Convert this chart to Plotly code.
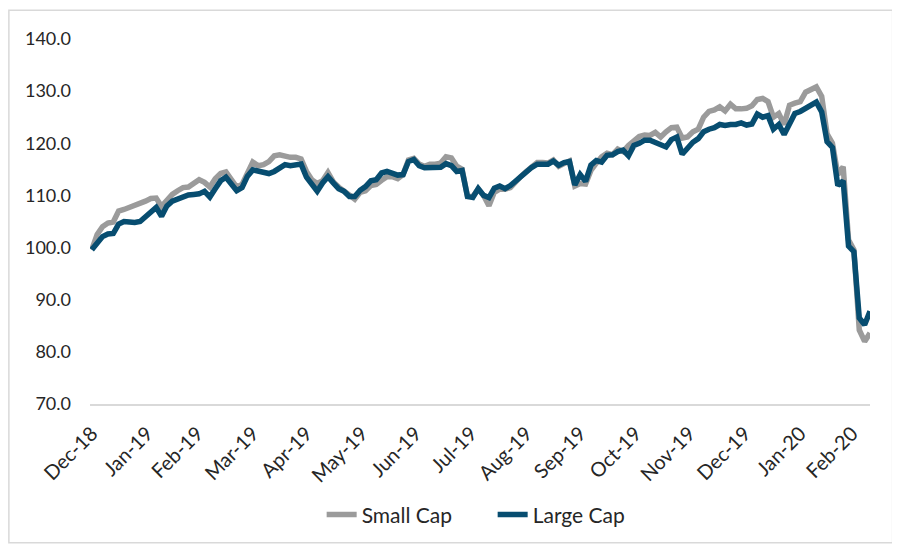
import pandas as pd
import plotly.graph_objects as go

# index levels (rebased to 100), sampled every 3 days from 31-Dec-2018
dates = pd.date_range("2018-12-31", periods=146, freq="3D")

small_cap = [
    99.6, 102.5, 104.0, 104.7, 104.9, 107.0, 107.3, 107.7, 108.1, 108.3,
    108.9, 109.4, 109.5, 107.9, 109.0, 110.2, 110.9, 111.5, 111.6, 112.4,
    113.0, 112.5, 111.6, 113.2, 114.2, 114.5, 113.0, 111.6, 112.1, 114.5,
    116.4, 115.7, 115.9, 116.5, 117.6, 117.8, 117.5, 117.3, 117.3, 117.0,
    114.6, 113.0, 112.3, 112.8, 114.4, 112.6, 111.6, 110.8, 109.9, 109.3,
    110.6, 110.9, 111.9, 112.1, 112.9, 113.6, 113.6, 113.2, 114.0, 116.8,
    117.1, 116.0, 115.6, 116.0, 116.0, 116.2, 117.4, 117.2, 115.6, 115.0,
    109.8, 109.8, 111.2, 110.0, 108.0, 110.6, 111.2, 111.2, 111.5, 112.7,
    113.7, 114.6, 115.3, 116.3, 116.3, 116.2, 116.8, 115.6, 116.1, 116.6,
    111.8, 112.3, 112.2, 114.8, 116.2, 117.4, 118.1, 117.8, 118.9, 118.4,
    119.6, 120.5, 121.3, 121.6, 121.5, 122.1, 121.2, 122.2, 123.0, 123.1,
    121.0, 121.2, 122.2, 122.7, 125.0, 126.1, 126.4, 127.0, 126.2, 127.5,
    126.6, 126.6, 126.7, 127.2, 128.4, 128.6, 128.0, 125.0, 125.7, 123.6,
    127.3, 127.7, 128.0, 129.8, 130.4, 130.8, 129.0, 121.8, 120.0, 114.0,
    115.5, 101.5, 99.6, 84.2, 82.0, 83.6,
]

large_cap = [
    99.6, 101.0, 102.1, 102.6, 102.7, 104.5, 105.0, 104.9, 104.8, 105.0,
    106.0, 107.0, 107.7, 106.0, 108.0, 108.9, 109.3, 109.8, 110.1, 110.2,
    110.3, 110.8, 109.7, 111.3, 112.8, 113.5, 112.2, 110.9, 111.5, 113.7,
    114.9, 114.6, 114.3, 114.2, 114.6, 115.2, 115.9, 115.7, 115.8, 116.0,
    113.5, 112.1, 110.8, 112.4, 113.6, 112.4, 111.3, 110.8, 109.8, 109.8,
    111.0, 111.7, 112.8, 113.0, 114.3, 114.6, 114.2, 113.9, 114.0, 116.5,
    116.9, 115.7, 115.3, 115.4, 115.4, 115.4, 116.1, 115.7, 114.6, 114.8,
    109.8, 109.6, 111.3, 110.0, 109.6, 111.4, 111.8, 111.3, 111.9, 112.8,
    113.8, 114.7, 115.4, 116.0, 115.9, 116.0, 116.6, 115.8, 116.3, 116.5,
    112.0, 114.0, 112.7, 115.8, 116.7, 116.4, 117.7, 117.8, 118.4, 118.7,
    117.6, 119.6, 120.0, 120.6, 120.6, 120.2, 119.9, 119.3, 120.7, 121.2,
    117.9, 119.2, 120.2, 120.9, 122.2, 122.7, 123.0, 123.6, 123.4, 123.6,
    123.6, 123.9, 123.5, 123.7, 125.6, 125.0, 125.3, 122.7, 123.6, 121.7,
    123.5, 125.7, 126.1, 126.8, 127.5, 127.9, 126.0, 120.3, 119.2, 111.9,
    112.8, 100.3, 99.2, 86.5, 85.2, 87.8,
]

tick_dates = [
    "2018-12-31", "2019-01-31", "2019-02-28", "2019-03-31", "2019-04-30",
    "2019-05-31", "2019-06-30", "2019-07-31", "2019-08-31", "2019-09-30",
    "2019-10-31", "2019-11-30", "2019-12-31", "2020-01-31", "2020-02-29",
]
tick_labels = [
    "Dec-18", "Jan-19", "Feb-19", "Mar-19", "Apr-19", "May-19", "Jun-19",
    "Jul-19", "Aug-19", "Sep-19", "Oct-19", "Nov-19", "Dec-19", "Jan-20", "Feb-20",
]

GRAY = "#9b9b9b"
NAVY = "#074d70"

fig = go.Figure()
fig.add_trace(go.Scatter(x=dates, y=small_cap, name="Small Cap", mode="lines",
                         line=dict(color=GRAY, width=5.5)))
fig.add_trace(go.Scatter(x=dates, y=large_cap, name="Large Cap", mode="lines",
                         line=dict(color=NAVY, width=5.5)))

# page body adds 8px of margin, so the figure is drawn 8px smaller
fig.update_layout(
    width=892, height=540,
    margin=dict(l=82, r=30, t=31, b=141),
    paper_bgcolor="white", plot_bgcolor="white",
    font=dict(family="Lato, sans-serif", size=18, color="#262626"),
    showlegend=True,
    legend=dict(orientation="h", x=0.297, xanchor="left", y=-0.304, yanchor="middle",
                font=dict(size=21), entrywidth=126, entrywidthmode="pixels"),
)

fig.update_xaxes(
    type="date", range=["2018-12-30", "2020-03-10"],
    tickmode="array", tickvals=tick_dates, ticktext=tick_labels,
    tickangle=-45, tickfont=dict(size=20),
    showgrid=False, zeroline=False,
    showline=True, linecolor="#d9d9d9", linewidth=2,
    ticks="", ticklabelstandoff=8,
)
fig.update_yaxes(
    range=[70, 140], dtick=10, tickformat=".1f",
    showgrid=False, zeroline=False, showline=False,
    ticks="", ticklabelstandoff=18,
)

# light frame round the chart
fig.add_shape(type="rect", xref="paper", yref="paper",
              x0=-0.104, x1=1.029, y0=-0.38, y1=1.079,
              line=dict(color="#d9d9d9", width=1.5), layer="below")

fig.write_html("out.html")
